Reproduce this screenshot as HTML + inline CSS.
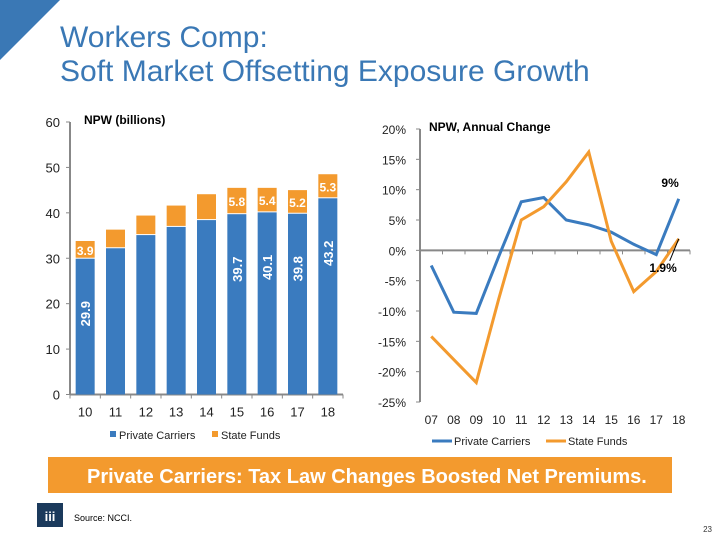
<!DOCTYPE html>
<html><head><meta charset="utf-8"><style>
body{margin:0;width:720px;height:540px;overflow:hidden;background:#fff;font-family:"Liberation Sans",sans-serif;position:relative}
.t{position:absolute;left:60px;color:#3a78b5;font-size:30px;line-height:32px}
</style></head><body>
<svg width="720" height="540" style="position:absolute;left:0;top:0">
<polygon points="0,0 60,0 0,60" fill="#3a78b5"/>
<g id="left"></g>
<g id="right"></g>
<rect x="48" y="457" width="624" height="36" fill="#f39a2e"/>
<text x="87" y="483" fill="#fff" font-size="20" font-weight="bold">Private Carriers: Tax Law Changes Boosted Net Premiums.</text>
<rect x="37" y="503" width="26" height="24" fill="#1b3a5c"/>
<text x="50" y="521" fill="#fff" font-size="13" font-weight="bold" text-anchor="middle">iii</text>
<text x="74" y="521" font-size="9" fill="#000">Source: NCCI.</text>
<text x="712" y="532" font-size="8" fill="#333" text-anchor="end">23</text>
</svg>
<div class="t" style="top:22px">Workers Comp:</div>
<div class="t" style="top:56px">Soft Market Offsetting Exposure Growth</div>
<script>
const barCats=["10","11","12","13","14","15","16","17","18"];
const privateNPW=[29.9,32.2,35.1,36.9,38.4,39.7,40.1,39.8,43.2];
const stateNPW=[3.9,4.1,4.3,4.7,5.7,5.8,5.4,5.2,5.3];
const privLabels=["29.9","","","","","39.7","40.1","39.8","43.2"];
const stateLabels=["3.9","","","","","5.8","5.4","5.2","5.3"];
const leftTicks=[0,10,20,30,40,50,60];
const lineCats=["07","08","09","10","11","12","13","14","15","16","17","18"];
const privateChg=[-2.5,-10.2,-10.4,-1,8,8.7,5,4.2,3,1,-0.7,8.5];
const stateChg=[-14.2,-18,-21.8,-8,5,7.2,11.3,16.2,1.5,-6.8,-3.5,1.9];
const rightTicks=[20,15,10,5,0,-5,-10,-15,-20,-25];
const NS="http://www.w3.org/2000/svg";
function mk(p,tag,a,txt){const e=document.createElementNS(NS,tag);for(const k in a)e.setAttribute(k,a[k]);if(txt!==undefined)e.textContent=txt;p.appendChild(e);return e;}
const BLUE="#3a7bbf",OR="#f39a2e",AX="#888";
const L=document.getElementById('left');
const lx0=70,lx1=343,ly0=394.5,lyTop=122;
const ly=v=>ly0-(v/60)*(ly0-lyTop);
const bw=(lx1-lx0)/barCats.length;
const bx=i=>lx0+bw*(i+0.5);
let e=mk(L,'line',{x1:lx0,y1:lyTop,x2:lx0,y2:ly0,stroke:AX,'stroke-width':2});

e=mk(L,'line',{x1:lx0,y1:ly0,x2:lx1,y2:ly0,stroke:AX,'stroke-width':2});

leftTicks.forEach(t=>{mk(L,'line',{x1:lx0-4,y1:ly(t),x2:lx0,y2:ly(t),stroke:AX});
 e=mk(L,'text',{x:lx0-10,y:ly(t)+5,'font-size':13,'text-anchor':'end',fill:'#222'},t);
 });
for(let i=0;i<=barCats.length;i++)mk(L,'line',{x1:lx0+bw*i,y1:ly0,x2:lx0+bw*i,y2:ly0+4,stroke:AX});
barCats.forEach((c,i)=>{
 const x=bx(i)-9.5;
 e=mk(L,'rect',{x:x,y:ly(privateNPW[i]),width:19,height:ly0-ly(privateNPW[i]),fill:BLUE});
 
 const top=privateNPW[i]+stateNPW[i];
 e=mk(L,'rect',{x:x,y:ly(top),width:19,height:ly(privateNPW[i])-ly(top)-1,fill:OR});
 
 e=mk(L,'text',{x:bx(i),y:ly0+22,'font-size':13,'text-anchor':'middle',fill:'#222'},c);
 
 if(privLabels[i]){const yy=ly(privateNPW[i])+55;
  e=mk(L,'text',{x:bx(i)+5,y:yy,'font-size':13,'font-weight':'bold',fill:'#fff','text-anchor':'middle',transform:`rotate(-90 ${bx(i)+5} ${yy})`},privLabels[i]);
  }
 if(stateLabels[i]){e=mk(L,'text',{x:bx(i),y:(ly(top)+ly(privateNPW[i]))/2+5,'font-size':12,'font-weight':'bold',fill:'#fff','text-anchor':'middle'},stateLabels[i]);
  }
});
e=mk(L,'text',{x:84,y:124,'font-size':12,'font-weight':'bold',fill:'#000'},'NPW (billions)');

mk(L,'rect',{x:110,y:431,width:6,height:6,fill:BLUE});
e=mk(L,'text',{x:119,y:439,'font-size':11,fill:'#222'},'Private Carriers');

mk(L,'rect',{x:212,y:431,width:6,height:6,fill:OR});
e=mk(L,'text',{x:221,y:439,'font-size':11,fill:'#222'},'State Funds');

const R=document.getElementById('right');
const rx0=420,rx1=690,ry20=129,ryM25=402;
const ry=v=>ry20+(20-v)/45*(ryM25-ry20);
const rbw=(rx1-rx0)/lineCats.length;
const rx=i=>rx0+rbw*(i+0.5);
e=mk(R,'line',{x1:rx0,y1:ry20,x2:rx0,y2:ryM25,stroke:AX,'stroke-width':2});

e=mk(R,'line',{x1:rx0,y1:ry(0),x2:rx1,y2:ry(0),stroke:AX,'stroke-width':2});

rightTicks.forEach(t=>{mk(R,'line',{x1:rx0-4,y1:ry(t),x2:rx0,y2:ry(t),stroke:AX});
 e=mk(R,'text',{x:rx0-14,y:ry(t)+5,'font-size':12,'text-anchor':'end',fill:'#222'},t+'%');
 });
lineCats.forEach((c,i)=>{mk(R,'line',{x1:rx0+rbw*(i+1),y1:ry(0),x2:rx0+rbw*(i+1),y2:ry(0)+4,stroke:AX});
 e=mk(R,'text',{x:rx(i),y:424,'font-size':12,'text-anchor':'middle',fill:'#222'},c);
 });
e=mk(R,'polyline',{points:privateChg.map((v,i)=>rx(i)+','+ry(v)).join(' '),fill:'none',stroke:BLUE,'stroke-width':3});

e=mk(R,'polyline',{points:stateChg.map((v,i)=>rx(i)+','+ry(v)).join(' '),fill:'none',stroke:OR,'stroke-width':3});

const n=lineCats.length-1;
e=mk(R,'text',{x:rx(n),y:ry(privateChg[n])-12,'font-size':12,'font-weight':'bold','text-anchor':'end',fill:'#000'},'9%');

mk(R,'line',{x1:rx(n),y1:ry(stateChg[n]),x2:rx(n)-9,y2:ry(stateChg[n])+22,stroke:'#000','stroke-width':1});
e=mk(R,'text',{x:rx(n)-2,y:ry(stateChg[n])+33,'font-size':12,'font-weight':'bold','text-anchor':'end',fill:'#000'},'1.9%');

e=mk(R,'text',{x:429,y:131,'font-size':12,'font-weight':'bold',fill:'#000'},'NPW, Annual Change');

mk(R,'line',{x1:432,y1:441,x2:452,y2:441,stroke:BLUE,'stroke-width':3});
e=mk(R,'text',{x:454,y:445,'font-size':11,fill:'#222'},'Private Carriers');

mk(R,'line',{x1:546,y1:441,x2:566,y2:441,stroke:OR,'stroke-width':3});
e=mk(R,'text',{x:568,y:445,'font-size':11,fill:'#222'},'State Funds');

</script>
</body></html>
